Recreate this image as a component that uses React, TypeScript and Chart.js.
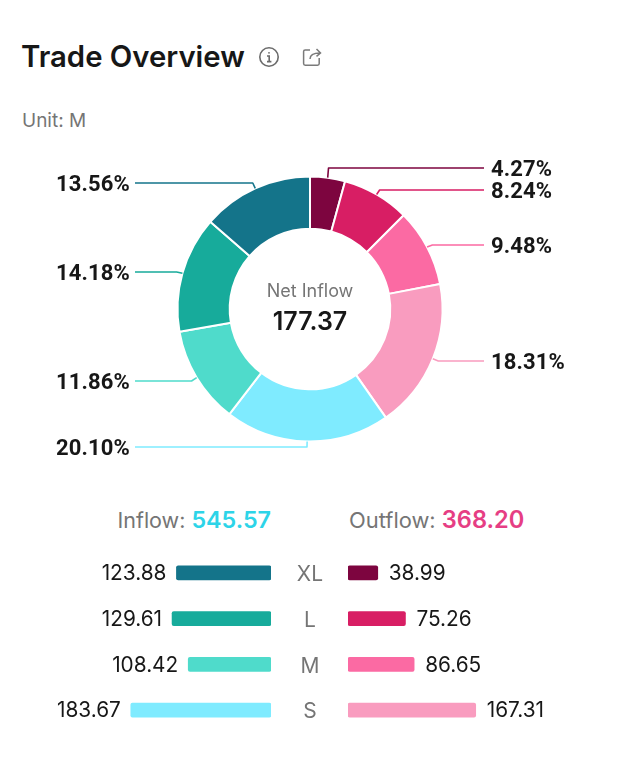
import React, { useEffect, useRef } from "react";
import { Chart, registerables } from "chart.js";

Chart.register(...registerables);

const sizes = ["XL", "L", "M", "S"];
const inflowValues = [123.88, 129.61, 108.42, 183.67];
const outflowValues = [38.99, 75.26, 86.65, 167.31];
const inflowColors = ["#14748A", "#17AB9B", "#4FDBCB", "#7FEBFF"];
const outflowColors = ["#7D053F", "#D81E64", "#FB6AA3", "#F99CBF"];
const inflowTotal = "545.57";
const outflowTotal = "368.20";
const netInflow = "177.37";
const sliceLabelY = [168, 190, 245, 361, 447, 381, 272, 183];

const sliceValues = [...outflowValues, ...[...inflowValues].reverse()];
const sliceColors = [...outflowColors, ...[...inflowColors].reverse()];

const BAR_FONT = "400 20.8px Inter";
const TEXT = "#171717";

function valueLabels(side: "left" | "right") {
  return {
    id: "valueLabels",
    afterDatasetsDraw(chart: any) {
      const { ctx } = chart;
      const meta = chart.getDatasetMeta(0);
      ctx.save();
      ctx.font = BAR_FONT;
      ctx.fillStyle = TEXT;
      ctx.textBaseline = "middle";
      ctx.textAlign = side === "left" ? "right" : "left";
      meta.data.forEach((bar: any, i: number) => {
        const v = chart.data.datasets[0].data[i];
        const dx = side === "left" ? -10 : 11;
        ctx.fillText(v.toFixed(2), bar.x + dx, bar.y + 1);
      });
      ctx.restore();
    },
  };
}

const leaders = {
  id: "leaders",
  afterDatasetsDraw(chart: any) {
    const { ctx } = chart;
    const meta = chart.getDatasetMeta(0);
    const values: number[] = chart.data.datasets[0].data;
    const total = values.reduce((a, b) => a + b, 0);
    const canvasTop = 140;
    meta.data.forEach((arc: any, i: number) => {
      const mid = (arc.startAngle + arc.endAngle) / 2;
      const r = arc.outerRadius;
      const sx = arc.x + Math.cos(mid) * r;
      const sy = arc.y + Math.sin(mid) * r;
      const right = Math.cos(mid) > 0 && i < 4;
      const ly = sliceLabelY[i] - canvasTop;
      const ex = sx + Math.cos(mid) * 6;
      const endX = right ? 484 : 135;
      ctx.save();
      ctx.strokeStyle = sliceColors[i];
      ctx.lineWidth = 1.6;
      ctx.lineJoin = "round";
      ctx.beginPath();
      ctx.moveTo(sx, sy);
      ctx.lineTo(ex, ly);
      ctx.lineTo(endX, ly);
      ctx.stroke();
      ctx.font = "700 22px Roboto";
      ctx.letterSpacing = "0.15px";
      ctx.fillStyle = TEXT;
      ctx.textBaseline = "middle";
      ctx.textAlign = right ? "left" : "right";
      const txt = ((values[i] / total) * 100).toFixed(2) + "%";
      ctx.fillText(txt, right ? 491 : 130, ly + 2);
      ctx.restore();
    });
    // centre text
    const a = meta.data[0];
    ctx.save();
    ctx.textAlign = "center";
    ctx.textBaseline = "middle";
    ctx.font = "400 18px Inter";
    ctx.fillStyle = "#757575";
    ctx.fillText("Net Inflow", a.x, a.y - 17);
    ctx.font = "600 25px Inter";
    ctx.fillStyle = TEXT;
    ctx.fillText(netInflow, a.x, a.y + 13);
    ctx.restore();
  },
};

function makeBarOptions(side: "left" | "right"): any {
  return {
    indexAxis: "y",
    responsive: false,
    animation: false,
    layout: { padding: 0 },
    plugins: { legend: { display: false }, tooltip: { enabled: false } },
    scales: {
      x: { display: false, min: 0, max: 300, reverse: side === "left" },
      y:
        side === "left"
          ? { display: false }
          : {
              grid: { display: false, drawTicks: false },
              border: { display: false },
              afterFit(scale: any) {
                scale.width = 76;
                scale.paddingTop = 0;
                scale.paddingBottom = 0;
              },
              ticks: {
                padding: 25,
                labelOffset: 2,
                crossAlign: "center",
                color: "#757575",
                font: { family: "Inter", size: 21 },
              },
            },
    },
  };
}

export default function App() {
  const donutRef = useRef<HTMLCanvasElement>(null);
  const leftRef = useRef<HTMLCanvasElement>(null);
  const rightRef = useRef<HTMLCanvasElement>(null);

  useEffect(() => {
    const donut = new Chart(donutRef.current!, {
      type: "doughnut",
      data: {
        labels: sliceValues.map((_, i) => String(i)),
        datasets: [
          {
            data: sliceValues,
            backgroundColor: sliceColors,
            borderColor: "#ffffff",
            borderWidth: 2,
          },
        ],
      },
      options: {
        responsive: false,
        animation: false,
        cutout: "60.6%",
        layout: { padding: { left: 176.5, right: 175.5, top: 35.5, bottom: 27.5 } },
        plugins: { legend: { display: false }, tooltip: { enabled: false } },
      } as any,
      plugins: [leaders],
    });
    const left = new Chart(leftRef.current!, {
      type: "bar",
      data: {
        labels: sizes,
        datasets: [{ data: inflowValues, backgroundColor: inflowColors, barThickness: 14, borderRadius: 2, borderSkipped: false }],
      },
      options: makeBarOptions("left"),
      plugins: [valueLabels("left")],
    });
    const right = new Chart(rightRef.current!, {
      type: "bar",
      data: {
        labels: sizes,
        datasets: [{ data: outflowValues, backgroundColor: outflowColors, barThickness: 14, borderRadius: 2, borderSkipped: false }],
      },
      options: makeBarOptions("right"),
      plugins: [valueLabels("right")],
    });
    return () => {
      donut.destroy();
      left.destroy();
      right.destroy();
    };
  }, []);

  const abs = (o: React.CSSProperties): React.CSSProperties => ({ position: "absolute", whiteSpace: "nowrap", ...o });

  return (
    <div style={{ position: "absolute", left: 0, top: 0, width: 619, height: 759, background: "#fff", overflow: "hidden", fontFamily: "Inter" }}>
      <div style={abs({ left: 21, top: 39, fontSize: 29.3, lineHeight: "36px", fontWeight: 600, color: TEXT })}>Trade Overview</div>
      <svg style={abs({ left: 258, top: 46 })} width="22" height="22" viewBox="0 0 22 22" fill="none" stroke="#6b6b6b" strokeWidth="1.6">
        <circle cx="11" cy="11" r="9.2" />
        <circle cx="11" cy="6.8" r="0.9" fill="#6b6b6b" stroke="none" />
        <path d="M9 10h2.2v5.4M9 15.6h4.4" />
      </svg>
      <svg style={abs({ left: 301, top: 46 })} width="22" height="22" viewBox="0 0 22 22" fill="none" stroke="#7a7a7a" strokeWidth="1.5">
        <path d="M9 4H4.2a1.6 1.6 0 0 0-1.6 1.6v12a1.6 1.6 0 0 0 1.6 1.6h12.4a1.6 1.6 0 0 0 1.6-1.6V12" />
        <path d="M9 13c0-4 3-6 10-6M15.5 3l4 4-4 3.4" />
      </svg>
      <div style={abs({ left: 22, top: 109, fontSize: 19, lineHeight: "24px", color: "#757575" })}>Unit: M</div>

      <canvas ref={donutRef} width={619} height={330} style={abs({ left: 0, top: 140 })} />

      <div style={abs({ right: 348, top: 504, fontSize: 21.5, lineHeight: "32px", color: "#757575" })}>
        Inflow: <span style={{ color: "#2DD4E8", fontWeight: 600, fontSize: 23.3 }}>{inflowTotal}</span>
      </div>
      <div style={abs({ left: 349, top: 504, fontSize: 21.9, lineHeight: "32px", color: "#757575" })}>
        Outflow: <span style={{ color: "#E63E84", fontWeight: 600, fontSize: 23.6 }}>{outflowTotal}</span>
      </div>

      <canvas ref={leftRef} width={229} height={183} style={abs({ left: 42, top: 550 })} />
      <canvas ref={rightRef} width={305} height={183} style={abs({ left: 272, top: 550 })} />
    </div>
  );
}
